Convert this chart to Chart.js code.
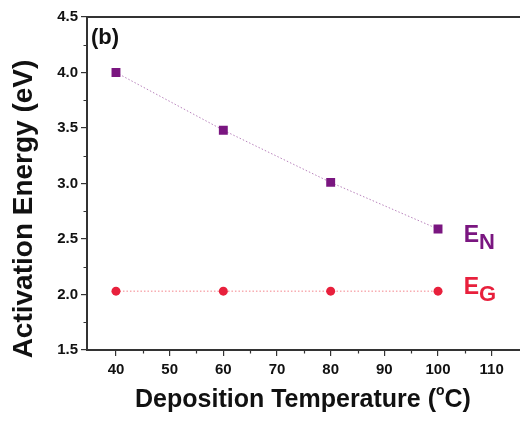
<!DOCTYPE html>
<html>
<head>
<meta charset="utf-8">
<script src="https://cdn.jsdelivr.net/npm/chart.js@4.4.1/dist/chart.umd.min.js"></script>
<style>
  html, body { margin: 0; padding: 0; background: #fff; }
  #wrap { width: 520px; height: 421px; position: relative; }
</style>
</head>
<body>
<div id="wrap"><canvas id="chart" width="520" height="421"></canvas></div>
<script>
// deposition temperatures (°C)
const temps = [40, 60, 80, 100];
// activation energies (eV)
const energyN = [4.00, 3.48, 3.01, 2.59];
const energyG = [2.03, 2.03, 2.03, 2.03];

const xTicks = [40, 50, 60, 70, 80, 90, 100, 110];
const xMinor = [45, 55, 65, 75, 85, 95, 105];
const yTicks = [1.5, 2.0, 2.5, 3.0, 3.5, 4.0, 4.5];
const yMinor = [1.75, 2.25, 2.75, 3.25, 3.75, 4.25];

const purple = '#7a1680';
const red = '#e8203c';
const font = '"Liberation Sans", Arial, sans-serif';

// minor ticks, frame top, axis titles and series labels
const decorations = {
    id: 'decorations',
    afterDraw(chart) {
        const ctx = chart.ctx;
        const area = chart.chartArea;
        const x = chart.scales.x;
        const y = chart.scales.y;
        ctx.save();

        // frame runs off the right edge
        ctx.strokeStyle = '#333';
        ctx.lineWidth = 2;
        ctx.beginPath();
        ctx.moveTo(area.left, area.top);
        ctx.lineTo(chart.width, area.top);
        ctx.moveTo(area.right - 1, area.bottom);
        ctx.lineTo(chart.width, area.bottom);
        ctx.stroke();

        ctx.lineWidth = 1.2;
        ctx.beginPath();
        xMinor.forEach(v => {
            const px = Math.round(x.getPixelForValue(v)) + 0.5;
            ctx.moveTo(px, area.bottom);
            ctx.lineTo(px, area.bottom + 3.5);
        });
        yMinor.forEach(v => {
            const py = Math.round(y.getPixelForValue(v)) + 0.5;
            ctx.moveTo(area.left, py);
            ctx.lineTo(area.left - 3.5, py);
        });
        ctx.stroke();

        // x axis title with superscript degree
        ctx.fillStyle = '#111';
        ctx.textBaseline = 'alphabetic';
        ctx.font = 'bold 25px ' + font;
        const main = 'Deposition Temperature (';
        const wMain = ctx.measureText(main).width;
        ctx.font = 'bold 14px ' + font;
        const wSup = ctx.measureText('o').width;
        ctx.font = 'bold 25px ' + font;
        const wEnd = ctx.measureText('C)').width;
        let tx = 303 - (wMain + wSup + wEnd) / 2;
        const ty = 407;
        ctx.textAlign = 'left';
        ctx.fillText(main, tx, ty);
        tx += wMain;
        ctx.font = 'bold 14px ' + font;
        ctx.fillText('o', tx, ty - 12);
        tx += wSup;
        ctx.font = 'bold 25px ' + font;
        ctx.fillText('C)', tx, ty);

        // y axis title
        ctx.save();
        ctx.translate(24, 209);
        ctx.rotate(-Math.PI / 2);
        ctx.font = 'bold 28px ' + font;
        ctx.textAlign = 'center';
        ctx.textBaseline = 'middle';
        ctx.fillText('Activation Energy (eV)', 0, 0);
        ctx.restore();

        // panel tag
        ctx.font = 'bold 22px ' + font;
        ctx.textAlign = 'left';
        ctx.textBaseline = 'alphabetic';
        ctx.fillText('(b)', 91, 44);

        // series labels
        const label = (main, sub, color, xv, yv) => {
            const px = x.getPixelForValue(xv);
            const py = y.getPixelForValue(yv);
            ctx.fillStyle = color;
            ctx.font = 'bold 23px ' + font;
            ctx.fillText(main, px, py);
            const w = ctx.measureText(main).width;
            ctx.font = 'bold 22px ' + font;
            ctx.fillText(sub, px + w, py + 7);
        };
        label('E', 'N', purple, 104.8, 2.473);
        label('E', 'G', red, 104.8, 2.005);

        ctx.restore();
    }
};

new Chart(document.getElementById('chart'), {
    type: 'line',
    data: {
        labels: temps,
        datasets: [{
            label: 'EN',
            data: temps.map((t, i) => ({ x: t, y: energyN[i] })),
            borderColor: 'rgba(160, 90, 165, 0.75)',
            borderWidth: 1,
            borderDash: [1.5, 2],
            pointStyle: 'rect',
            pointRadius: 6.3,
            pointBackgroundColor: purple,
            pointBorderColor: purple,
            pointBorderWidth: 0
        }, {
            label: 'EG',
            data: temps.map((t, i) => ({ x: t, y: energyG[i] })),
            borderColor: 'rgba(240, 90, 100, 0.75)',
            borderWidth: 1,
            borderDash: [1.5, 2],
            pointStyle: 'circle',
            pointRadius: 4.5,
            pointBackgroundColor: red,
            pointBorderColor: red,
            pointBorderWidth: 0
        }]
    },
    options: {
        responsive: false,
        animation: false,
        maintainAspectRatio: false,
        layout: { padding: { top: 17, right: 0, bottom: 0, left: 0 } },
        plugins: { legend: { display: false }, tooltip: { enabled: false } },
        scales: {
            x: {
                type: 'linear',
                min: 34.6,
                max: 114.1,
                afterBuildTicks: s => { s.ticks = xTicks.map(v => ({ value: v })); },
                afterFit: s => { s.height = 71; },
                border: { display: true, color: '#333', width: 2 },
                grid: { drawOnChartArea: false, drawTicks: true, tickLength: 6, color: '#333', lineWidth: 1.2 },
                ticks: {
                    color: '#111',
                    padding: 5,
                    maxRotation: 0,
                    font: { family: font, size: 15, weight: 'bold' }
                }
            },
            y: {
                type: 'linear',
                min: 1.5,
                max: 4.5,
                afterBuildTicks: s => { s.ticks = yTicks.map(v => ({ value: v })); },
                afterFit: s => { s.width = 87; },
                border: { display: true, color: '#333', width: 2 },
                grid: { drawOnChartArea: false, drawTicks: true, tickLength: 6, color: '#333', lineWidth: 1.2 },
                ticks: {
                    color: '#111',
                    padding: 3,
                    font: { family: font, size: 15, weight: 'bold' },
                    callback: v => v.toFixed(1)
                }
            }
        }
    },
    plugins: [decorations]
});
</script>
</body>
</html>
